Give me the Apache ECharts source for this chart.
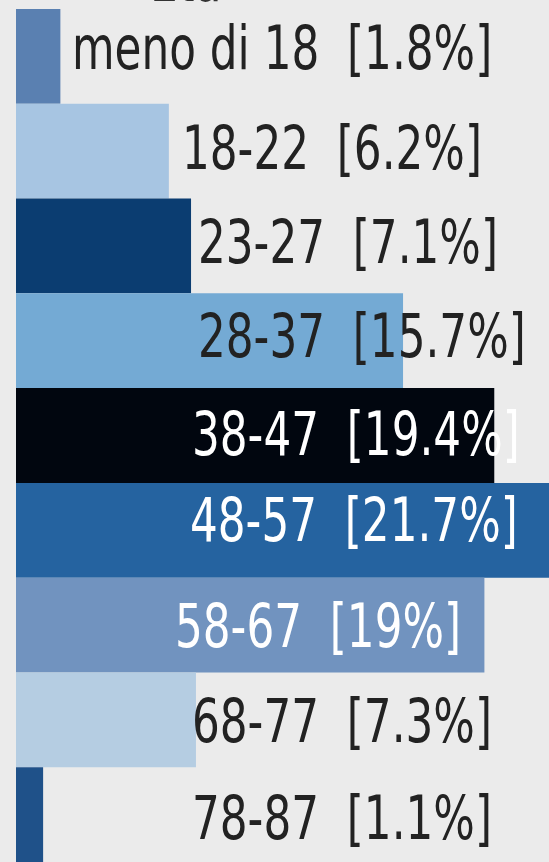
<!DOCTYPE html>
<html>
<head>
<meta charset="utf-8">
<script src="https://cdn.jsdelivr.net/npm/echarts@6/dist/echarts.min.js"></script>
<style>
  html, body { margin: 0; padding: 0; background: #ebebeb; }
  #chart { width: 549px; height: 862px; }
</style>
</head>
<body>
<div id="chart"></div>
<script>
// fasce d'età e quote percentuali
const categories = ['meno di 18', '18-22', '23-27', '28-37', '38-47', '48-57', '58-67', '68-77', '78-87'];
const values = [1.8, 6.2, 7.1, 15.7, 19.4, 21.7, 19, 7.3, 1.1];

// stile per riga
const barColors = ['#5a80b1', '#a7c5e2', '#0b3d71', '#74aad4', '#01060f', '#2563a0', '#7193bf', '#b5cde2', '#1f5189'];
const labelColors = ['#222', '#222', '#222', '#222', '#fff', '#fff', '#fff', '#222', '#222'];
const labelLeft = [56, 166, 182, 182, 176, 174, 159, 176, 176]; // px dall'inizio della barra
const labelDy = [-3, 2, 1, 1, 4, -5, 6, 7, 9];

const FONT = "'DejaVu Sans Condensed', sans-serif";
const SQUEEZE = 0.81; // il font originale è più stretto

const chart = echarts.init(document.getElementById('chart'));

const option = {
    backgroundColor: '#ebebeb',
    animation: false,
    grid: { left: 16, right: 0, top: 9, height: 860 },
    xAxis: { type: 'value', min: 0, max: 21.62, show: false },
    yAxis: { type: 'category', data: categories, inverse: true, show: false },
    graphic: [{
        type: 'text',
        x: 150,
        y: -15,
        scaleX: SQUEEZE,
        style: { text: 'Età', fill: '#333', font: '60px ' + FONT, verticalAlign: 'middle' }
    }],
    series: [{
        type: 'bar',
        data: values.map((v, i) => ({ value: v, itemStyle: { color: barColors[i] } })),
        barCategoryGap: 0
    }, {
        type: 'custom',
        data: values,
        clip: false,
        z: 10,
        renderItem: (params, api) => {
            const i = params.dataIndex;
            const p = api.coord([0, i]);
            return {
                type: 'text',
                x: p[0] + labelLeft[i],
                y: p[1] + labelDy[i],
                scaleX: SQUEEZE,
                style: {
                    text: categories[i] + '  [' + values[i] + '%]',
                    fill: labelColors[i],
                    font: '60px ' + FONT,
                    align: 'left',
                    verticalAlign: 'middle'
                }
            };
        }
    }]
};
chart.setOption(option);
</script>
</body>
</html>
